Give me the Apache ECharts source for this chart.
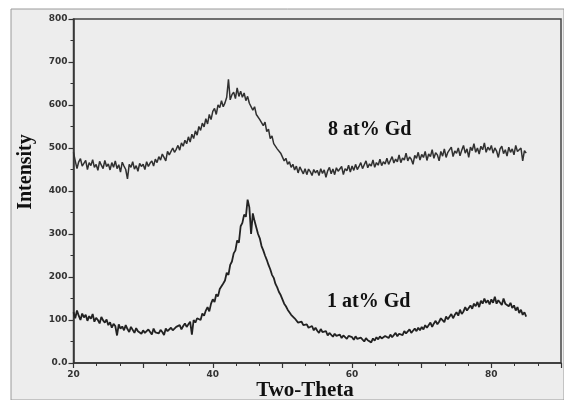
<!DOCTYPE html>
<html>
<head>
<meta charset="utf-8">
<script src="https://cdn.jsdelivr.net/npm/echarts@6/dist/echarts.min.js"></script>
<style>
html,body{margin:0;padding:0;background:#fff}
#xrd{width:564px;height:400px}
</style>
</head>
<body>
<div id="xrd"></div>
<script>
// scan: 2-theta from 20 to 85 deg, step 0.25
var thetaStart = 20
var thetaStep = 0.25

var labels = ['8 at% Gd', '1 at% Gd']
var xTicks = [20, 40, 60, 80]

// 8 at% Gd
var gd8 = [
  490,470,452,468,475,458,462,471,450,466,459,473,455,462,448,469,460,452,471,457,
  463,449,466,455,470,452,461,444,467,458,450,428,462,455,468,451,459,446,464,457,
  462,450,468,457,465,470,458,474,466,480,472,486,478,470,492,484,488,500,490,497,
  506,495,512,504,518,510,526,514,532,522,540,530,550,541,558,549,568,556,578,566,
  585,592,578,600,594,610,596,605,618,660,612,624,630,615,640,620,632,618,628,610,
  620,604,600,588,596,578,582,566,570,552,560,538,544,522,528,510,512,498,502,488,
  484,470,476,462,468,455,462,449,458,442,456,448,440,452,438,451,445,436,450,442,
  448,436,452,441,449,432,447,455,440,451,438,454,446,443,457,438,452,447,460,444,
  458,448,462,450,457,466,452,461,470,454,463,458,472,455,466,460,474,459,468,463,
  476,462,471,480,465,474,468,484,466,477,472,488,470,479,474,462,483,476,490,472,
  485,478,492,471,486,480,496,476,489,484,470,492,481,498,478,490,486,502,480,493,
  488,500,482,495,506,488,498,478,502,494,510,490,500,486,504,496,512,490,502,495,
  506,488,500,493,478,498,504,487,496,481,502,490,498,484,506,492,488,500,470,494,
  488
]

// 1 at% Gd
var gd1 = [
  118,104,122,110,100,115,106,112,98,109,103,114,96,105,100,92,107,99,94,101,
  88,95,82,91,86,64,90,80,85,76,88,79,72,84,77,70,81,74,78,68,
  76,70,68,78,72,66,80,71,74,69,77,72,65,80,74,70,82,76,73,84,
  80,88,78,86,92,84,90,96,66,100,94,104,108,100,115,110,122,130,120,138,
  148,142,160,155,172,168,185,192,210,205,228,236,255,262,285,280,318,326,345,340,
  380,362,300,348,330,315,300,290,272,262,250,240,228,218,205,198,184,176,165,158,
  148,138,132,124,120,112,108,104,100,94,92,96,88,84,90,82,80,86,76,82,
  75,70,79,72,68,74,64,70,66,61,68,63,60,66,58,64,61,56,63,59,
  60,54,62,56,52,59,55,50,58,53,56,48,57,52,60,55,62,57,54,63,
  62,58,66,60,64,70,62,68,72,65,74,69,71,78,70,75,80,74,82,76,
  84,78,88,82,86,94,84,92,98,90,96,104,100,95,108,102,106,114,104,112,
  118,110,124,114,120,130,122,128,134,126,138,132,142,130,145,138,150,140,146,136,
  148,140,154,138,146,142,135,150,138,142,132,140,128,134,122,130,116,124,112,118,
  108
]

function pairs(arr){
  var out = []
  for (var i = 0; i < arr.length; i++) {
    out.push([thetaStart + i * thetaStep, arr[i]])
  }
  return out
}

var chart = echarts.init(document.getElementById('xrd'))

var axisFont = {
  fontFamily: 'DejaVu Sans',
  fontWeight: 'bold',
  fontSize: 9,
  color: '#333'
}

var option = {
  animation: false,
  backgroundColor: '#fff',
  graphic: [
    {
      type: 'rect', z: -10,
      shape: {x: 11, y: 9, width: 553, height: 391},
      style: {fill: '#ededed', stroke: '#9a9a9a', lineWidth: 1}
    },
    {
      type: 'text', x: 26, y: 172, rotation: Math.PI / 2,
      style: {
        text: 'Intensity', fill: '#111',
        font: 'bold 20px "Liberation Serif"',
        align: 'center', verticalAlign: 'middle'
      }
    },
    {
      type: 'text', x: 305, y: 391,
      style: {
        text: 'Two-Theta', fill: '#111',
        font: 'bold 21px "Liberation Serif"',
        align: 'center', verticalAlign: 'middle'
      }
    },
    {
      type: 'text', x: 328, y: 130,
      style: {
        text: labels[0], fill: '#111',
        font: 'bold 20px "Liberation Serif"',
        align: 'left', verticalAlign: 'middle'
      }
    },
    {
      type: 'text', x: 327, y: 302,
      style: {
        text: labels[1], fill: '#111',
        font: 'bold 20px "Liberation Serif"',
        align: 'left', verticalAlign: 'middle'
      }
    }
  ],
  grid: {
    left: 73.5, right: 2, top: 19, bottom: 37,
    show: true,
    borderColor: '#444',
    borderWidth: 1.5,
    backgroundColor: 'transparent'
  },
  xAxis: {
    type: 'value',
    min: 20, max: 90, interval: 10,
    axisLine: {lineStyle: {color: '#333', width: 1.5}},
    axisTick: {length: 5, lineStyle: {color: '#333', width: 1.2}},
    minorTick: {show: true, splitNumber: 3, length: 3, lineStyle: {color: '#333', width: 1}},
    splitLine: {show: false},
    axisLabel: Object.assign({
      margin: 7,
      formatter: function(v){ return xTicks.indexOf(v) >= 0 ? String(v) : '' }
    }, axisFont)
  },
  yAxis: {
    type: 'value',
    min: 0, max: 800, interval: 100,
    axisLine: {show: true, lineStyle: {color: '#333', width: 1.5}},
    axisTick: {show: true, length: 5, lineStyle: {color: '#333', width: 1.2}},
    minorTick: {show: true, splitNumber: 2, length: 3, lineStyle: {color: '#333', width: 1}},
    splitLine: {show: false},
    axisLabel: Object.assign({
      margin: 6,
      formatter: function(v){ return v === 0 ? '0.0' : String(v) }
    }, axisFont)
  },
  series: [
    {
      name: labels[0],
      type: 'line',
      showSymbol: false,
      data: pairs(gd8),
      lineStyle: {color: '#303030', width: 1.5}
    },
    {
      name: labels[1],
      type: 'line',
      showSymbol: false,
      data: pairs(gd1),
      lineStyle: {color: '#222', width: 1.8}
    }
  ]
}

chart.setOption(option)
</script>
</body>
</html>
